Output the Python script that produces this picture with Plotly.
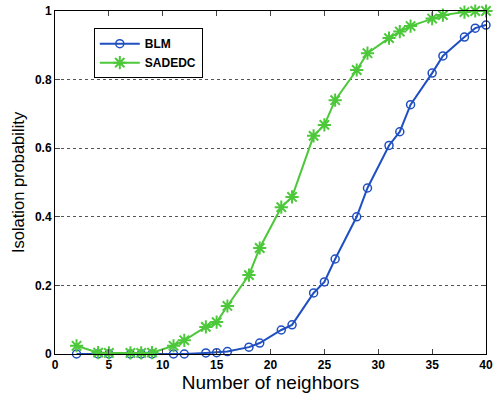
import plotly.graph_objects as go

neighbors = [2, 4, 5, 7, 8, 9, 11, 12, 14, 15, 16, 18, 19, 21, 22, 24, 25, 26, 28, 29, 31, 32, 33, 35, 36, 38, 39, 40]
blm = [0.0, 0.0, 0.0, 0.0, 0.0, 0.0, 0.0, 0.0, 0.003, 0.004, 0.007, 0.02, 0.032, 0.07, 0.085, 0.178, 0.21, 0.277, 0.40, 0.484, 0.608, 0.648, 0.727, 0.819, 0.869, 0.924, 0.95, 0.959]
sadedc = [0.024, 0.004, 0.003, 0.003, 0.003, 0.004, 0.024, 0.04, 0.079, 0.093, 0.14, 0.23, 0.309, 0.428, 0.458, 0.636, 0.668, 0.74, 0.828, 0.877, 0.921, 0.94, 0.956, 0.978, 0.988, 0.997, 1.0, 1.0]

x_ticks = [0, 5, 10, 15, 20, 25, 30, 35, 40]
y_ticks = [0, 0.2, 0.4, 0.6, 0.8, 1]
y_tick_labels = ["0", "0.2", "0.4", "0.6", "0.8", "1"]

blue = "#1f4fc0"
green = "#4cc83a"

fig = go.Figure()
fig.add_trace(go.Scatter(
    x=neighbors, y=blm, name="BLM", mode="lines+markers",
    line=dict(color=blue, width=2),
    marker=dict(symbol="circle-open", size=8, color=blue, line=dict(width=1.5, color=blue)),
    cliponaxis=False,
))
fig.add_trace(go.Scatter(
    x=neighbors, y=sadedc, name="SADEDC", mode="lines+markers",
    line=dict(color=green, width=2),
    marker=dict(symbol="asterisk-open", size=11, color=green, line=dict(width=2, color=green)),
    cliponaxis=False,
))

fam = "Liberation Sans, Arial, sans-serif"

fig.update_layout(
    width=495, height=397,
    margin=dict(l=55, r=9, t=11, b=43, autoexpand=False),
    paper_bgcolor="white", plot_bgcolor="white",
    showlegend=True,
    legend=dict(
        x=0.09, y=0.95, xanchor="left", yanchor="top",
        bgcolor="white", bordercolor="black", borderwidth=1,
        font=dict(family=fam, size=12, color="black", weight="bold"),
        itemwidth=40, tracegroupgap=0,
    ),
    xaxis=dict(
        range=[0, 40], tickvals=x_ticks, ticks="inside", ticklen=5,
        showline=True, linecolor="black", linewidth=1, mirror="ticks",
        showgrid=False, zeroline=False, automargin=False, ticklabeloverflow="allow",
        tickfont=dict(family=fam, size=12, color="black", weight="bold"),
        title=dict(text="Number of neighbors", font=dict(family=fam, size=19, color="black"), standoff=3),
    ),
    yaxis=dict(
        range=[0, 1], tickvals=y_ticks, ticktext=y_tick_labels, ticks="inside", ticklen=5,
        showline=True, linecolor="black", linewidth=1, mirror="ticks",
        showgrid=True, gridcolor="#555555", griddash="dot", gridwidth=1, zeroline=False, automargin=False,
        ticklabeloverflow="allow",
        tickfont=dict(family=fam, size=12, color="black", weight="bold"),
        title=dict(text="Isolation probability", font=dict(family=fam, size=16.5, color="black"), standoff=6),
    ),
)

fig.write_html("out.html", config={"displayModeBar": False},
               post_script="document.body.style.margin='0px';document.body.style.overflow='hidden';")
